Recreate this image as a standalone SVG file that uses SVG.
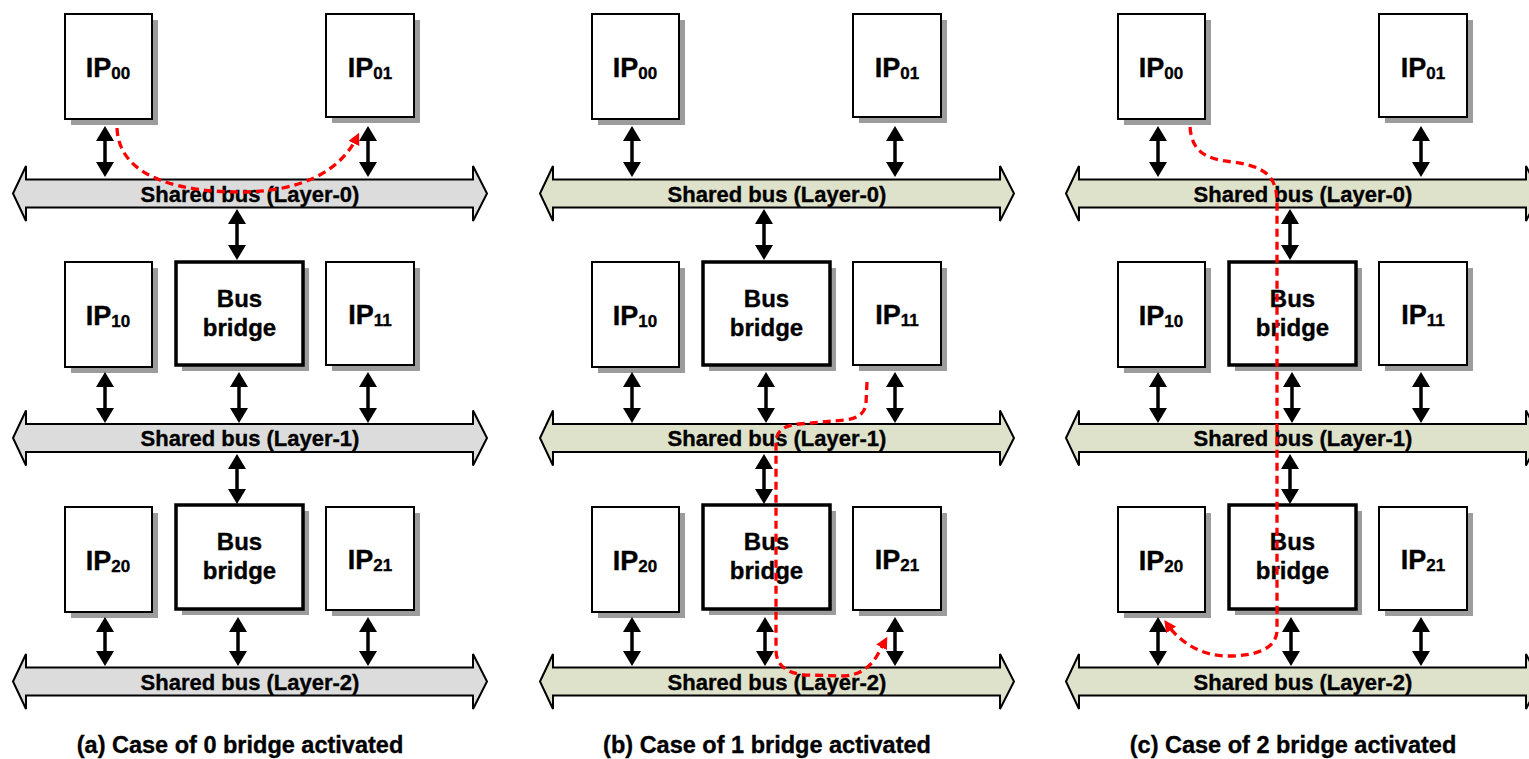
<svg xmlns="http://www.w3.org/2000/svg" width="1529" height="759" viewBox="0 0 1529 759">
  <style>
    text { font-family: "Liberation Sans", Arial, sans-serif; font-weight: bold; fill: #000; text-anchor: middle; stroke: #000; stroke-width: 0.35; }
    .shadow { fill: #9c9c9c; }
    .ip { fill: #fff; stroke: #000; stroke-width: 2; }
    .bridge { fill: #fff; stroke: #000; stroke-width: 3.5; }
    .ipl { font-size: 27px; }
    .sub { font-size: 17px; }
    .brl { font-size: 24px; }
    .busl { font-size: 22px; }
    .cap { font-size: 23.5px; }
    .bus-gray { fill: #dcdcdc; stroke: #000; stroke-width: 2; }
    .bus-green { fill: #dfe2cb; stroke: #000; stroke-width: 2; }
    .link { stroke: #000; stroke-width: 3.5; fill: none; marker-start: url(#head); marker-end: url(#head); }
    .flow { stroke: #ff0000; stroke-width: 3.3; fill: none; stroke-dasharray: 8 5; marker-end: url(#redhead); }
  </style>
  <defs>
    <marker id="head" viewBox="0 0 15 18" refX="3" refY="9" markerWidth="15" markerHeight="18" markerUnits="userSpaceOnUse" orient="auto-start-reverse">
      <path d="M0,0 L15,9 L0,18 Z" fill="#000"/>
    </marker>
    <marker id="redhead" viewBox="0 0 10 10" refX="6" refY="5" markerWidth="12" markerHeight="12" markerUnits="userSpaceOnUse" orient="auto">
      <path d="M0,0 L10,5 L0,10 Z" fill="#ff0000"/>
    </marker>
    <!-- shared bus outline: double-headed wide arrow -->
    <path id="busShape" d="M13,0 L26,-27.5 L26,-14 L473,-14 L473,-27.5 L487,0 L473,27.5 L473,14 L26,14 L26,27.5 Z"/>
  </defs>

  <!-- ===== Panel (a) ===== -->
  <g id="panel-a">
    <g id="a-bus0"><use href="#busShape" class="bus-gray" transform="translate(0,193.5)"/><text class="busl" x="250" y="201.5">Shared bus (Layer-0)</text></g>
    <g id="a-bus1"><use href="#busShape" class="bus-gray" transform="translate(0,438)"/><text class="busl" x="250" y="446">Shared bus (Layer-1)</text></g>
    <g id="a-bus2"><use href="#busShape" class="bus-gray" transform="translate(0,681.5)"/><text class="busl" x="250" y="689.5">Shared bus (Layer-2)</text></g>

    <g id="a-ip00"><rect class="shadow" x="71" y="20" width="87" height="105"/><rect class="ip" x="65" y="14" width="87" height="105"/><text class="ipl" x="108" y="77">IP<tspan class="sub" dy="2">00</tspan></text></g>
    <g id="a-ip01"><rect class="shadow" x="332" y="20" width="88" height="103"/><rect class="ip" x="326" y="14" width="88" height="103"/><text class="ipl" x="370" y="77">IP<tspan class="sub" dy="2">01</tspan></text></g>

    <g id="a-ip10"><rect class="shadow" x="71" y="268" width="87" height="105"/><rect class="ip" x="65" y="262" width="87" height="105"/><text class="ipl" x="108" y="325">IP<tspan class="sub" dy="2">10</tspan></text></g>
    <g id="a-bridge1"><rect class="shadow" x="182" y="268" width="127" height="103"/><rect class="bridge" x="176" y="262" width="127" height="103"/><text class="brl" x="239.5" y="307">Bus</text><text class="brl" x="239.5" y="336">bridge</text></g>
    <g id="a-ip11"><rect class="shadow" x="332" y="268" width="88" height="103"/><rect class="ip" x="326" y="262" width="88" height="103"/><text class="ipl" x="370" y="324">IP<tspan class="sub" dy="2">11</tspan></text></g>

    <g id="a-ip20"><rect class="shadow" x="71" y="513" width="87" height="105"/><rect class="ip" x="65" y="507" width="87" height="105"/><text class="ipl" x="108" y="570">IP<tspan class="sub" dy="2">20</tspan></text></g>
    <g id="a-bridge2"><rect class="shadow" x="182" y="511" width="127" height="104"/><rect class="bridge" x="176" y="505" width="127" height="104"/><text class="brl" x="239.5" y="550">Bus</text><text class="brl" x="239.5" y="579">bridge</text></g>
    <g id="a-ip21"><rect class="shadow" x="332" y="513" width="88" height="103"/><rect class="ip" x="326" y="507" width="88" height="103"/><text class="ipl" x="370" y="569">IP<tspan class="sub" dy="2">21</tspan></text></g>

    <g id="a-links">
      <line class="link" x1="105" y1="138" x2="105" y2="165"/>
      <line class="link" x1="368" y1="138" x2="368" y2="165"/>
      <line class="link" x1="237" y1="221" x2="237" y2="248"/>
      <line class="link" x1="105" y1="384" x2="105" y2="411"/>
      <line class="link" x1="239" y1="384" x2="239" y2="411"/>
      <line class="link" x1="368" y1="384" x2="368" y2="411"/>
      <line class="link" x1="237" y1="466" x2="237" y2="492"/>
      <line class="link" x1="105" y1="629" x2="105" y2="654"/>
      <line class="link" x1="238" y1="629" x2="238" y2="654"/>
      <line class="link" x1="368" y1="629" x2="368" y2="654"/>
      <path class="flow" d="M117,128 C119,180 185,192 240,192 C300,192 340,172 357,137"/>
    </g>
    <text class="cap" x="240" y="753">(a) Case of 0 bridge activated</text>
  </g>

  <!-- ===== Panel (b) ===== -->
  <g id="panel-b" transform="translate(527,0)">
    <g id="b-bus0"><use href="#busShape" class="bus-green" transform="translate(0,193.5)"/><text class="busl" x="250" y="201.5">Shared bus (Layer-0)</text></g>
    <g id="b-bus1"><use href="#busShape" class="bus-green" transform="translate(0,438)"/><text class="busl" x="250" y="446">Shared bus (Layer-1)</text></g>
    <g id="b-bus2"><use href="#busShape" class="bus-green" transform="translate(0,681.5)"/><text class="busl" x="250" y="689.5">Shared bus (Layer-2)</text></g>

    <g id="b-ip00"><rect class="shadow" x="71" y="20" width="87" height="105"/><rect class="ip" x="65" y="14" width="87" height="105"/><text class="ipl" x="108" y="77">IP<tspan class="sub" dy="2">00</tspan></text></g>
    <g id="b-ip01"><rect class="shadow" x="332" y="20" width="88" height="103"/><rect class="ip" x="326" y="14" width="88" height="103"/><text class="ipl" x="370" y="77">IP<tspan class="sub" dy="2">01</tspan></text></g>

    <g id="b-ip10"><rect class="shadow" x="71" y="268" width="87" height="105"/><rect class="ip" x="65" y="262" width="87" height="105"/><text class="ipl" x="108" y="325">IP<tspan class="sub" dy="2">10</tspan></text></g>
    <g id="b-bridge1"><rect class="shadow" x="182" y="268" width="127" height="103"/><rect class="bridge" x="176" y="262" width="127" height="103"/><text class="brl" x="239.5" y="307">Bus</text><text class="brl" x="239.5" y="336">bridge</text></g>
    <g id="b-ip11"><rect class="shadow" x="332" y="268" width="88" height="103"/><rect class="ip" x="326" y="262" width="88" height="103"/><text class="ipl" x="370" y="324">IP<tspan class="sub" dy="2">11</tspan></text></g>

    <g id="b-ip20"><rect class="shadow" x="71" y="513" width="87" height="105"/><rect class="ip" x="65" y="507" width="87" height="105"/><text class="ipl" x="108" y="570">IP<tspan class="sub" dy="2">20</tspan></text></g>
    <g id="b-bridge2"><rect class="shadow" x="182" y="511" width="127" height="104"/><rect class="bridge" x="176" y="505" width="127" height="104"/><text class="brl" x="239.5" y="550">Bus</text><text class="brl" x="239.5" y="579">bridge</text></g>
    <g id="b-ip21"><rect class="shadow" x="332" y="513" width="88" height="103"/><rect class="ip" x="326" y="507" width="88" height="103"/><text class="ipl" x="370" y="569">IP<tspan class="sub" dy="2">21</tspan></text></g>

    <g id="b-links">
      <line class="link" x1="105" y1="138" x2="105" y2="165"/>
      <line class="link" x1="368" y1="138" x2="368" y2="165"/>
      <line class="link" x1="237" y1="221" x2="237" y2="248"/>
      <line class="link" x1="105" y1="384" x2="105" y2="411"/>
      <line class="link" x1="239" y1="384" x2="239" y2="411"/>
      <line class="link" x1="368" y1="384" x2="368" y2="411"/>
      <line class="link" x1="237" y1="466" x2="237" y2="492"/>
      <line class="link" x1="105" y1="629" x2="105" y2="654"/>
      <line class="link" x1="238" y1="629" x2="238" y2="654"/>
      <line class="link" x1="368" y1="629" x2="368" y2="654"/>
      <path class="flow" d="M340,382 L339,404 Q337,418 318,420 L272,424 Q249,426 249,442 L249,650 Q249,672 278,675 L318,676 Q340,674 351,654 L358,641"/>
    </g>
    <text class="cap" x="240" y="753">(b) Case of 1 bridge activated</text>
  </g>

  <!-- ===== Panel (c) ===== -->
  <g id="panel-c" transform="translate(1053,0)">
    <g id="c-bus0"><use href="#busShape" class="bus-green" transform="translate(0,193.5)"/><text class="busl" x="250" y="201.5">Shared bus (Layer-0)</text></g>
    <g id="c-bus1"><use href="#busShape" class="bus-green" transform="translate(0,438)"/><text class="busl" x="250" y="446">Shared bus (Layer-1)</text></g>
    <g id="c-bus2"><use href="#busShape" class="bus-green" transform="translate(0,681.5)"/><text class="busl" x="250" y="689.5">Shared bus (Layer-2)</text></g>

    <g id="c-ip00"><rect class="shadow" x="71" y="20" width="87" height="105"/><rect class="ip" x="65" y="14" width="87" height="105"/><text class="ipl" x="108" y="77">IP<tspan class="sub" dy="2">00</tspan></text></g>
    <g id="c-ip01"><rect class="shadow" x="332" y="20" width="88" height="103"/><rect class="ip" x="326" y="14" width="88" height="103"/><text class="ipl" x="370" y="77">IP<tspan class="sub" dy="2">01</tspan></text></g>

    <g id="c-ip10"><rect class="shadow" x="71" y="268" width="87" height="105"/><rect class="ip" x="65" y="262" width="87" height="105"/><text class="ipl" x="108" y="325">IP<tspan class="sub" dy="2">10</tspan></text></g>
    <g id="c-bridge1"><rect class="shadow" x="182" y="268" width="127" height="103"/><rect class="bridge" x="176" y="262" width="127" height="103"/><text class="brl" x="239.5" y="307">Bus</text><text class="brl" x="239.5" y="336">bridge</text></g>
    <g id="c-ip11"><rect class="shadow" x="332" y="268" width="88" height="103"/><rect class="ip" x="326" y="262" width="88" height="103"/><text class="ipl" x="370" y="324">IP<tspan class="sub" dy="2">11</tspan></text></g>

    <g id="c-ip20"><rect class="shadow" x="71" y="513" width="87" height="105"/><rect class="ip" x="65" y="507" width="87" height="105"/><text class="ipl" x="108" y="570">IP<tspan class="sub" dy="2">20</tspan></text></g>
    <g id="c-bridge2"><rect class="shadow" x="182" y="511" width="127" height="104"/><rect class="bridge" x="176" y="505" width="127" height="104"/><text class="brl" x="239.5" y="550">Bus</text><text class="brl" x="239.5" y="579">bridge</text></g>
    <g id="c-ip21"><rect class="shadow" x="332" y="513" width="88" height="103"/><rect class="ip" x="326" y="507" width="88" height="103"/><text class="ipl" x="370" y="569">IP<tspan class="sub" dy="2">21</tspan></text></g>

    <g id="c-links">
      <line class="link" x1="105" y1="138" x2="105" y2="165"/>
      <line class="link" x1="368" y1="138" x2="368" y2="165"/>
      <line class="link" x1="237" y1="221" x2="237" y2="248"/>
      <line class="link" x1="105" y1="384" x2="105" y2="411"/>
      <line class="link" x1="239" y1="384" x2="239" y2="411"/>
      <line class="link" x1="368" y1="384" x2="368" y2="411"/>
      <line class="link" x1="237" y1="466" x2="237" y2="492"/>
      <line class="link" x1="105" y1="629" x2="105" y2="654"/>
      <line class="link" x1="238" y1="629" x2="238" y2="654"/>
      <line class="link" x1="368" y1="629" x2="368" y2="654"/>
      <path class="flow" d="M137,127 C139,152 152,159 180,162 C206,166 224,172 224,202 L224,630 C224,650 200,656 175,656 C150,656 128,644 114,624"/>
    </g>
    <text class="cap" x="240" y="753">(c) Case of 2 bridge activated</text>
  </g>
</svg>
